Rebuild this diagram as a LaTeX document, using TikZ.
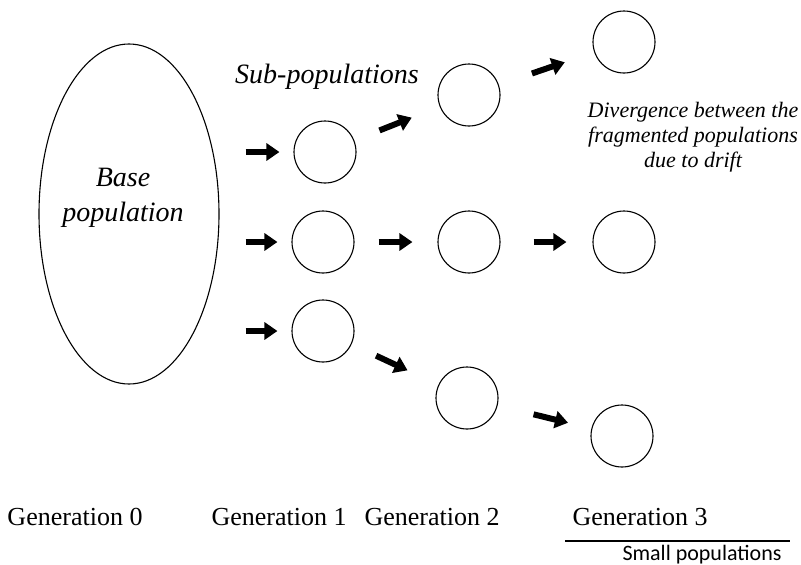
\documentclass[tikz,border=0pt]{standalone}
\usepackage{fontspec}
\setmainfont{Liberation Serif}[ItalicFont={Liberation Serif Italic}]
\newfontfamily\smallsans{Carlito}
\usetikzlibrary{arrows.meta,shapes.geometric}
\begin{document}
\begin{tikzpicture}[x=1pt,y=-1pt,
  pop/.style={circle,draw,line width=1.1pt,minimum size=62pt,inner sep=0pt},
  bigarrow/.style={line width=6pt,-{Triangle[length=13pt,width=17pt]}},
  ital/.style={font=\fontsize{28}{35}\selectfont\itshape,align=center,inner sep=0pt},
  note/.style={font=\fontsize{22}{25}\selectfont\itshape,align=center,inner sep=0pt},
  gen/.style={font=\fontsize{26}{30}\selectfont,inner sep=0pt,anchor=base}]
\useasboundingbox (0,0) rectangle (801,565);
% base population
\node[ellipse,draw,line width=1.1pt,minimum width=180pt,minimum height=340pt,inner sep=0pt] (e) at (129,214) {};
\node[ital] (base) at (123,198) {Base\\population};
% circles
\node[pop] (c11) at (325,152) {};
\node[pop] (c12) at (323,242) {};
\node[pop] (c13) at (323,331) {};
\node[pop] (c21) at (469,95) {};
\node[pop] (c22) at (469,242) {};
\node[pop] (c23) at (467,398) {};
\node[pop] (c31) at (624,42) {};
\node[pop] (c32) at (624,242) {};
\node[pop] (c33) at (622,436) {};
% arrows
\draw[bigarrow,shorten <=26pt,shorten >=14pt] (e.east |- c11) -- (c11);
\draw[bigarrow,shorten <=26pt,shorten >=14pt] (e.east |- c12) -- (c12);
\draw[bigarrow,shorten <=26pt,shorten >=14pt] (e.east |- c13) -- (c13);
\draw[bigarrow,shorten <=27pt,shorten >=30pt] (c11) -- (c21);
\draw[bigarrow,shorten <=24pt,shorten >=25pt] (c12) -- (c22);
\draw[bigarrow,shorten <=27pt,shorten >=34pt] (c13) -- (c23);
\draw[bigarrow,shorten <=35pt,shorten >=31pt] (c21) -- (c31);
\draw[bigarrow,shorten <=33pt,shorten >=26pt] (c22) -- (c32);
\draw[bigarrow,shorten <=37pt,shorten >=24pt] (c23) -- (c33);
% labels
\node[ital,anchor=base] (sub) at (327,83) {Sub-populations};
\node[note] (div) at (693,137) {Divergence between the\\fragmented populations\\due to drift};
\node[gen] (g0) at (75,525) {Generation 0};
\node[gen] (g1) at (279,525) {Generation 1};
\node[gen] (g2) at (432,525) {Generation 2};
\node[gen] (g3) at (640,525) {Generation 3};
\coordinate (l1) at (565,541);
\coordinate (l2) at (790,541);
\draw[line width=1.2pt] (l1) -- (l2);
\node[font=\smallsans\fontsize{22}{26}\selectfont,inner sep=0pt,anchor=base] (small) at (702,560) {Small populations};
\end{tikzpicture}
\end{document}
